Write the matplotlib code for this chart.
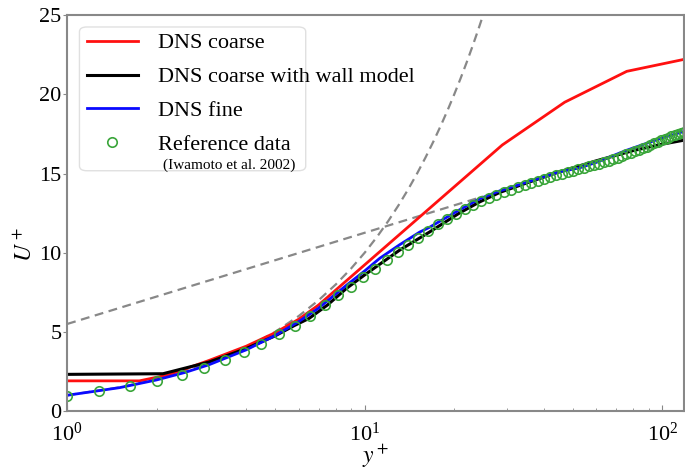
import matplotlib.pyplot as plt
from matplotlib.patches import FancyBboxPatch

plt.rcParams['font.family'] = ['Liberation Serif', 'DejaVu Serif']
plt.rcParams['mathtext.fontset'] = 'stix'

# mean velocity profiles, y+ vs U+
DNS_COARSE_Y = [1, 1.75, 2.2, 3, 4, 5, 6, 7, 29, 47, 76, 118]
DNS_COARSE_U = [1.91, 1.91, 2.3, 3.2, 4.1, 4.95, 5.8, 6.7, 16.8, 19.5, 21.45, 22.2]

WALL_MODEL_Y = [1, 2.1, 3, 4, 5, 5.8, 6.5, 7.5, 8.69, 10, 13.1, 16.5, 20.8,
                24.3, 28.4, 35, 45, 60, 80, 100, 118]
WALL_MODEL_U = [2.32, 2.36, 3.1, 3.95, 4.75, 5.4, 5.85, 6.7, 7.75, 8.6, 10.16,
                11.3, 12.5, 13.2, 13.8, 14.4, 15.1, 15.8, 16.45, 16.85, 17.1]

DNS_FINE_Y = [1, 1.5, 2, 2.5, 3, 4, 5, 6, 7, 8, 8.69, 10, 11.24, 13.1, 15.3,
              16.5, 20.8, 24.3, 28.4, 35, 45, 52.6, 60, 75.5, 90, 100, 118]
DNS_FINE_U = [1.0, 1.48, 1.97, 2.45, 2.93, 3.87, 4.77, 5.65, 6.5, 7.4, 7.95,
              8.85, 9.65, 10.5, 11.3, 11.6, 12.7, 13.4, 13.9, 14.45, 15.1,
              15.35, 15.7, 16.45, 16.95, 17.25, 17.65]

REF_Y = [1.0, 1.28, 1.63, 2.0, 2.43, 2.88, 3.39, 3.93, 4.5, 5.16, 5.82, 6.55,
         7.33, 8.15, 9.0, 9.9, 10.85, 11.85, 12.9, 14.0, 15.15, 16.35, 17.6,
         18.9, 20.25, 21.65, 23.1, 24.6, 26.1, 27.7, 29.3, 31.0, 32.7, 34.5,
         36.3, 38.2, 40.1, 42.0, 44.0, 46.0, 48.1, 50.2, 52.3, 54.5, 56.7,
         59.0, 61.3, 63.6, 66.0, 68.4, 70.8, 73.3, 75.8, 78.3, 80.8, 83.4,
         86.0, 88.6, 91.2, 93.9, 96.6, 99.3, 102.0, 104.7, 107.4, 110.1,
         112.8, 115.5, 118.2]
REF_U = [0.97, 1.25, 1.58, 1.93, 2.31, 2.75, 3.24, 3.75, 4.25, 4.85, 5.4, 6.0,
         6.7, 7.3, 7.85, 8.45, 9.0, 9.55, 10.05, 10.5, 10.95, 11.4, 11.8,
         12.15, 12.45, 12.75, 13.0, 13.25, 13.45, 13.65, 13.82, 13.98, 14.13,
         14.27, 14.4, 14.53, 14.65, 14.77, 14.88, 14.98, 15.08, 15.18, 15.27,
         15.36, 15.45, 15.54, 15.63, 15.72, 15.81, 15.9, 16.0, 16.1, 16.2,
         16.3, 16.4, 16.5, 16.6, 16.7, 16.8, 16.9, 17.0, 17.1, 17.2, 17.27,
         17.35, 17.42, 17.5, 17.57, 17.65]

# law of the wall: viscous sublayer U+ = y+ and log law U+ = 2.5 ln y+ + 5.5
VISC_Y = [1, 1.5, 2, 3, 4, 5, 6, 7, 8, 9, 10, 11, 12, 13, 14, 15, 16, 17, 18,
          19, 20, 21, 22, 23, 24, 25, 26]
LOG_Y = [1, 25]
LOG_U = [5.5, 13.55]

fig = plt.figure(figsize=(6.85, 4.72), dpi=100)
ax = fig.add_axes([0.098, 0.129, 0.9, 0.839])

ax.plot(VISC_Y, VISC_Y, '--', color='#888888', lw=1.6, dashes=(4, 2.5))
ax.plot(LOG_Y, LOG_U, '--', color='#888888', lw=1.6, dashes=(4, 2.5))

l1, = ax.plot(DNS_COARSE_Y, DNS_COARSE_U, color='#ff1010', lw=2.0)
l2, = ax.plot(WALL_MODEL_Y, WALL_MODEL_U, color='black', lw=2.2)
l3, = ax.plot(DNS_FINE_Y, DNS_FINE_U, color='#0a0aff', lw=2.0)
l4, = ax.plot(REF_Y, REF_U, 'o', mfc='none', mec='#3aa53a', ms=6.8, mew=1.2)

ax.set_xscale('log')
ax.set_xlim(1, 118)
ax.set_ylim(0, 25)
ax.set_yticks([0, 5, 10, 15, 20, 25])

for s in ax.spines.values():
    s.set_color('#888888')
    s.set_linewidth(1.5)
ax.tick_params(axis='x', which='both', direction='in', colors='#888888',
               labelcolor='black', labelsize=16, pad=8)
ax.tick_params(axis='x', which='major', length=4)
ax.tick_params(axis='x', which='minor', length=2.5)
ax.tick_params(axis='y', direction='out', length=3, colors='#888888',
               labelcolor='black', labelsize=16, pad=1)

ax.set_xlabel(r'$y^+$', fontsize=17, labelpad=-2)
ax.set_ylabel(r'$U^+$', fontsize=17)
ax.yaxis.set_label_coords(-0.05, 0.42)

# legend box drawn separately so it keeps its own size
frame = FancyBboxPatch((0.02, 0.607), 0.367, 0.363, transform=ax.transAxes,
                       boxstyle='round,pad=0,rounding_size=0.012',
                       fc='white', ec='#dddddd', lw=1.0, alpha=0.9, zorder=4)
ax.add_patch(frame)
leg = ax.legend([l1, l2, l3, l4],
                ['DNS coarse', 'DNS coarse with wall model', 'DNS fine',
                 'Reference data'],
                loc='upper left', bbox_to_anchor=(0.032, 0.955),
                frameon=False, fontsize=16, handlelength=2.3,
                handletextpad=0.9, labelspacing=0.6, borderpad=0,
                borderaxespad=0)
leg.set_zorder(5)
ax.text(0.156, 0.62, '(Iwamoto et al. 2002)', transform=ax.transAxes,
        fontsize=11, va='center', ha='left', zorder=6)

fig.savefig('out.png', dpi=100)
